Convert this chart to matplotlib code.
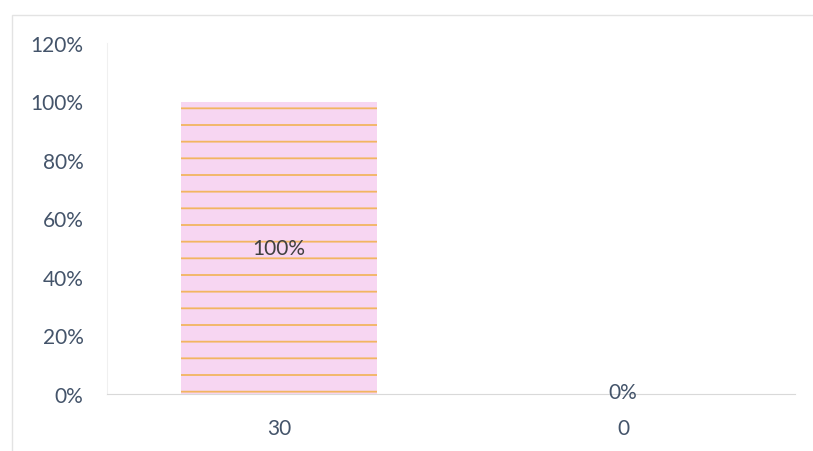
import numpy as np
import matplotlib.pyplot as plt
from matplotlib.patches import Rectangle

# data
categories = ["30", "0"]
shares = [100, 0]
value_labels = ["100%", "0%"]
y_ticks = [0, 20, 40, 60, 80, 100, 120]

text_color = "#44546A"
plt.rcParams["font.family"] = ["Lato", "DejaVu Sans"]
plt.rcParams["hatch.linewidth"] = 1.3

fig = plt.figure(figsize=(8.13, 4.52), dpi=100)
ax = fig.add_axes([107 / 813, 57 / 452, 688 / 813, 351 / 452])

# outer chart border
fig.patches.append(Rectangle((12 / 813, -0.05), 1.2, (436 + 0.05 * 452) / 452,
                             transform=fig.transFigure, fill=False,
                             edgecolor="#E3E3E3", linewidth=1.0))

r = np.arange(len(categories))
# pink fill, then orange streaks on top
ax.bar(r, shares, width=0.567, color="#F7D6F2", edgecolor="none")
ax.bar(r, shares, width=0.567, color="none", edgecolor="#F2B560",
       linewidth=0, hatch="-")

for i, v in enumerate(shares):
    if v > 0:
        ax.text(r[i], v / 2, value_labels[i], ha="center", va="center",
                fontsize=15, color="#404040")
    else:
        ax.text(r[i], 0.8, value_labels[i], ha="center", va="center",
                fontsize=15, color=text_color)

ax.set_xlim(-0.5, len(categories) - 0.5)
ax.set_ylim(0, 120)
ax.set_yticks(y_ticks)
ax.set_yticklabels([str(t) + "%" for t in y_ticks])
ax.set_xticks(r)
ax.set_xticklabels(categories)
ax.tick_params(axis="both", length=0, labelsize=15, labelcolor=text_color)
ax.tick_params(axis="y", pad=17)
ax.tick_params(axis="x", pad=17)

for s in ["top", "right"]:
    ax.spines[s].set_visible(False)
ax.spines["bottom"].set_color("#D9D9D9")
ax.spines["left"].set_color("#F0F0F0")

plt.savefig("out.png", dpi=100)
